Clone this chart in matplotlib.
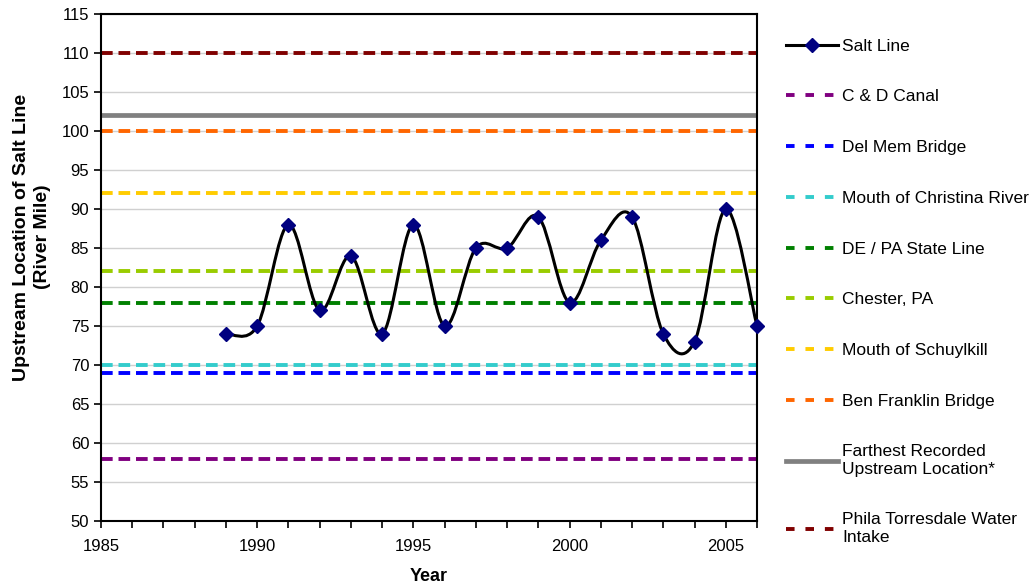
import numpy as np
import matplotlib.pyplot as plt
from matplotlib.path import Path
from matplotlib.patches import PathPatch
from matplotlib.lines import Line2D

plt.rcParams["font.family"] = ["Liberation Sans", "DejaVu Sans"]

years = [1989, 1990, 1991, 1992, 1993, 1994, 1995, 1996, 1997,
         1998, 1999, 2000, 2001, 2002, 2003, 2004, 2005, 2006]
salt_line = [74, 75, 88, 77, 84, 74, 88, 75, 85,
             85, 89, 78, 86, 89, 74, 73, 90, 75]

landmarks = ["C & D Canal", "Del Mem Bridge", "Mouth of Christina River",
             "DE / PA State Line", "Chester, PA", "Mouth of Schuylkill",
             "Ben Franklin Bridge", "Farthest Recorded\nUpstream Location*",
             "Phila Torresdale Water\nIntake"]
river_miles = [58, 69, 70, 78, 82, 92, 100, 102, 110]
colors = ["#800080", "#0000FF", "#33CCCC", "#008000", "#99CC00",
          "#FFCC00", "#FF6600", "#808080", "#800000"]
solid = [False, False, False, False, False, False, False, True, False]

fig = plt.figure(figsize=(10.36, 5.85), dpi=100)
ax = fig.add_axes([0.0975, 0.1094, 0.6332, 0.8666])
ax.set_xlim(1985, 2006)
ax.set_ylim(50, 115)

ax.set_yticks(np.arange(50, 116, 5))
ax.set_xticks([1985, 1990, 1995, 2000, 2005])
ax.set_xticks(np.arange(1985, 2007, 1), minor=True)
ax.grid(axis="y", color="#d0d0d0", linewidth=1)
ax.set_axisbelow(True)
ax.tick_params(axis="both", labelsize=12, direction="out", length=5, width=1.2)
ax.tick_params(axis="x", which="major", pad=8)
ax.tick_params(axis="x", which="minor", length=5, width=1.2)
for s in ax.spines.values():
    s.set_linewidth(1.5)

handles = []
for name, rm, c, sol in zip(landmarks, river_miles, colors, solid):
    if sol:
        ax.plot(ax.get_xlim(), [rm, rm], color=c, linewidth=3.4, zorder=2,
                solid_capstyle="butt")
        handles.append(Line2D([0], [0], color=c, linewidth=3.4, label=name))
    else:
        ax.plot(ax.get_xlim(), [rm, rm], color=c, linewidth=2.8, zorder=2,
                dashes=(3.0, 1.5), dash_capstyle="butt")
        handles.append(Line2D([0], [0], color=c, linewidth=2.8,
                              dashes=(2.2, 2.8), label=name))

# smoothed curve (Catmull-Rom style, like spreadsheet smoothed lines)
pts = np.column_stack([years, salt_line]).astype(float)
verts = [tuple(pts[0])]
codes = [Path.MOVETO]
n = len(pts)
for i in range(n - 1):
    p0 = pts[i - 1] if i > 0 else pts[i]
    p1 = pts[i]
    p2 = pts[i + 1]
    p3 = pts[i + 2] if i + 2 < n else pts[i + 1]
    c1 = p1 + (p2 - p0) / 6.0
    c2 = p2 - (p3 - p1) / 6.0
    verts += [tuple(c1), tuple(c2), tuple(p2)]
    codes += [Path.CURVE4] * 3
ax.add_patch(PathPatch(Path(verts, codes), facecolor="none",
                       edgecolor="black", linewidth=2.2, zorder=4))
ax.plot(years, salt_line, linestyle="none", marker="D", markersize=7.5,
        color="#000080", zorder=5, clip_on=False)
salt_handle = Line2D([0], [0], color="black", linewidth=2.2, marker="D",
                     markersize=7.5, markerfacecolor="#000080",
                     markeredgecolor="#000080", label="Salt Line")

ax.set_xlabel("Year", fontsize=13, fontweight="bold", labelpad=10)
ax.set_ylabel("Upstream Location of Salt Line\n(River Mile)", fontsize=14,
              fontweight="bold", linespacing=1.3)
ax.yaxis.set_label_coords(-0.076, 0.56)

fig.legend(handles=[salt_handle] + handles, loc="upper left",
           bbox_to_anchor=(0.752, 0.946), frameon=False, fontsize=12.5,
           handlelength=3.0, handletextpad=0.25, labelspacing=2.05,
           borderaxespad=0)

fig.savefig("out.png", dpi=100)
